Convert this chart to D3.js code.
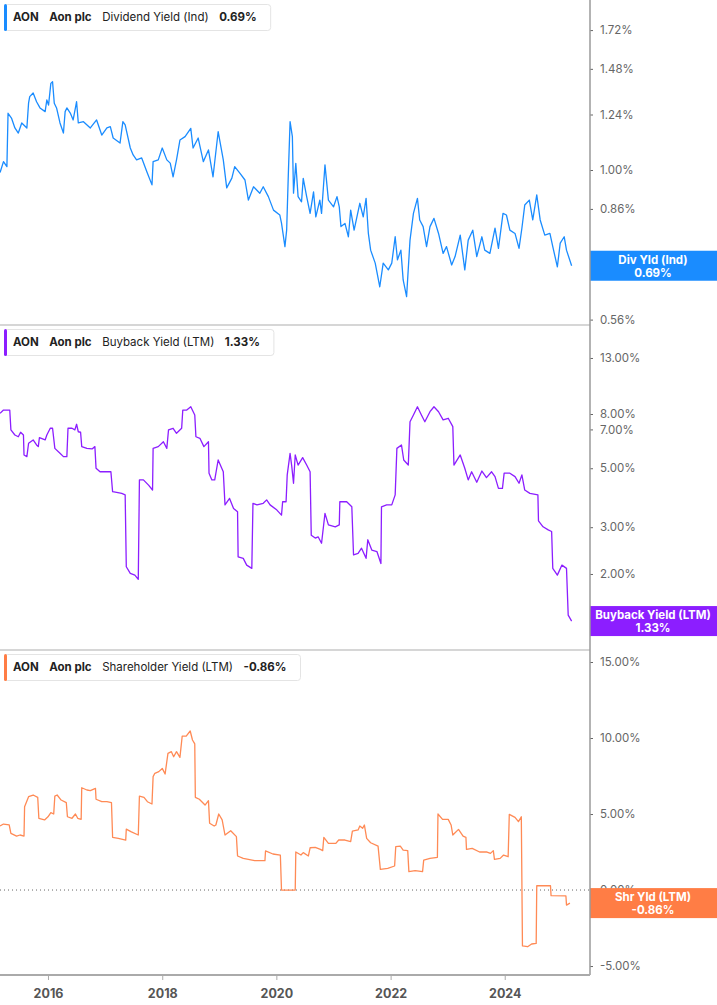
<!DOCTYPE html>
<html>
<head>
<meta charset="utf-8">
<script src="https://cdn.jsdelivr.net/npm/d3@7"></script>
<style>
  body { margin: 0; background: #fff; }
  svg { display: block; font-family: Inter, "Noto Sans", sans-serif; }
</style>
</head>
<body>
<svg id="chart" width="717" height="1005"></svg>
<script>
// [decimal year, value %]
const divYield = [
  [2015.16, 0.99], [2015.22, 1.033], [2015.28, 1.013], [2015.30, 1.246], [2015.36, 1.223],
  [2015.42, 1.177], [2015.48, 1.154], [2015.54, 1.200], [2015.63, 1.177], [2015.66, 1.297],
  [2015.68, 1.329], [2015.74, 1.348], [2015.80, 1.303], [2015.86, 1.272], [2015.95, 1.254],
  [2015.98, 1.312], [2016.01, 1.286], [2016.05, 1.399], [2016.08, 1.408], [2016.11, 1.295],
  [2016.15, 1.272], [2016.21, 1.200], [2016.27, 1.154], [2016.30, 1.254], [2016.33, 1.272],
  [2016.39, 1.247], [2016.44, 1.214], [2016.50, 1.303], [2016.53, 1.200], [2016.62, 1.206],
  [2016.74, 1.177], [2016.85, 1.214], [2016.94, 1.145], [2017.03, 1.177], [2017.09, 1.183],
  [2017.14, 1.132], [2017.26, 1.110], [2017.31, 1.206], [2017.35, 1.191], [2017.44, 1.089],
  [2017.49, 1.060], [2017.55, 1.040], [2017.64, 1.048], [2017.73, 0.993], [2017.82, 0.944],
  [2017.84, 1.033], [2017.93, 1.040], [2018.00, 1.089], [2018.08, 1.040], [2018.14, 1.027],
  [2018.19, 0.974], [2018.25, 1.040], [2018.31, 1.123], [2018.40, 1.138], [2018.50, 1.175],
  [2018.54, 1.089], [2018.63, 1.132], [2018.72, 1.033], [2018.81, 1.081], [2018.89, 0.974],
  [2018.98, 1.160], [2019.07, 1.040], [2019.13, 0.933], [2019.22, 0.969], [2019.27, 1.013],
  [2019.36, 0.988], [2019.45, 0.962], [2019.51, 0.890], [2019.60, 0.937], [2019.71, 0.914],
  [2019.77, 0.937], [2019.86, 0.902], [2019.95, 0.856], [2020.06, 0.840], [2020.09, 0.814],
  [2020.15, 0.743], [2020.18, 0.792], [2020.21, 0.988], [2020.24, 1.206], [2020.28, 1.138],
  [2020.30, 0.914], [2020.34, 1.026], [2020.38, 0.902], [2020.44, 0.884], [2020.47, 0.968],
  [2020.53, 0.902], [2020.59, 0.845], [2020.65, 0.919], [2020.69, 0.834], [2020.76, 0.890],
  [2020.79, 0.845], [2020.85, 1.020], [2020.91, 0.890], [2021.00, 0.867], [2021.06, 0.902],
  [2021.10, 0.867], [2021.13, 0.803], [2021.20, 0.813], [2021.26, 0.772], [2021.30, 0.856],
  [2021.36, 0.792], [2021.46, 0.879], [2021.52, 0.834], [2021.57, 0.896], [2021.61, 0.782],
  [2021.65, 0.733], [2021.73, 0.697], [2021.81, 0.636], [2021.87, 0.697], [2021.96, 0.679],
  [2022.02, 0.697], [2022.08, 0.772], [2022.12, 0.706], [2022.18, 0.733], [2022.22, 0.653],
  [2022.28, 0.612], [2022.34, 0.762], [2022.40, 0.845], [2022.47, 0.896], [2022.51, 0.824],
  [2022.57, 0.803], [2022.63, 0.743], [2022.69, 0.803], [2022.76, 0.829], [2022.84, 0.782],
  [2022.92, 0.724], [2022.98, 0.743], [2023.07, 0.692], [2023.13, 0.715], [2023.22, 0.777],
  [2023.30, 0.679], [2023.36, 0.762], [2023.44, 0.792], [2023.51, 0.715], [2023.60, 0.772],
  [2023.65, 0.733], [2023.74, 0.724], [2023.83, 0.798], [2023.89, 0.738], [2023.97, 0.845],
  [2024.03, 0.840], [2024.09, 0.792], [2024.18, 0.782], [2024.25, 0.738], [2024.30, 0.798],
  [2024.35, 0.873], [2024.43, 0.890], [2024.49, 0.824], [2024.56, 0.908], [2024.62, 0.824],
  [2024.70, 0.777], [2024.79, 0.782], [2024.84, 0.743], [2024.92, 0.687], [2024.97, 0.753],
  [2025.04, 0.772], [2025.08, 0.733], [2025.17, 0.69]
];

const buybackYield = [
  [2015.16, 8.05], [2015.22, 8.28], [2015.33, 8.28], [2015.35, 6.97], [2015.42, 6.67],
  [2015.48, 6.57], [2015.52, 6.83], [2015.57, 6.67], [2015.58, 5.61], [2015.63, 5.53],
  [2015.66, 6.21], [2015.74, 6.39], [2015.80, 6.12], [2015.83, 6.03], [2015.85, 6.52],
  [2015.95, 6.39], [2015.98, 6.67], [2016.04, 7.07], [2016.08, 7.07], [2016.12, 5.94],
  [2016.21, 5.69], [2016.27, 5.53], [2016.33, 5.53], [2016.35, 7.07], [2016.42, 7.07],
  [2016.47, 6.97], [2016.50, 7.32], [2016.53, 6.86], [2016.57, 6.83], [2016.59, 6.03],
  [2016.68, 5.94], [2016.77, 5.91], [2016.82, 6.03], [2016.84, 5.00], [2016.91, 4.85],
  [2017.10, 4.85], [2017.13, 4.08], [2017.20, 4.06], [2017.29, 4.02], [2017.35, 3.97],
  [2017.37, 2.13], [2017.44, 2.01], [2017.52, 1.98], [2017.58, 1.91], [2017.60, 4.52],
  [2017.67, 4.52], [2017.76, 4.32], [2017.83, 4.14], [2017.84, 5.94], [2017.93, 6.03],
  [2018.02, 6.29], [2018.08, 5.94], [2018.11, 6.97], [2018.19, 7.07], [2018.25, 6.77],
  [2018.34, 7.07], [2018.36, 8.28], [2018.43, 8.28], [2018.50, 8.52], [2018.57, 7.93],
  [2018.59, 6.57], [2018.66, 6.48], [2018.73, 6.03], [2018.81, 6.29], [2018.82, 4.79],
  [2018.87, 4.52], [2018.92, 4.52], [2018.98, 5.37], [2019.07, 4.85], [2019.10, 3.64],
  [2019.18, 3.85], [2019.25, 3.53], [2019.32, 3.43], [2019.33, 2.32], [2019.42, 2.29],
  [2019.48, 2.16], [2019.57, 2.10], [2019.59, 3.69], [2019.66, 3.64], [2019.77, 3.69],
  [2019.83, 3.80], [2019.89, 3.64], [2020.01, 3.48], [2020.09, 3.33], [2020.11, 3.74],
  [2020.17, 3.74], [2020.19, 4.72], [2020.24, 5.69], [2020.27, 5.07], [2020.30, 4.39],
  [2020.33, 5.61], [2020.38, 5.14], [2020.46, 5.48], [2020.53, 5.14], [2020.59, 4.85],
  [2020.61, 2.80], [2020.68, 2.73], [2020.73, 2.76], [2020.79, 2.61], [2020.85, 3.38],
  [2020.91, 3.06], [2021.03, 3.01], [2021.10, 3.06], [2021.11, 3.74], [2021.23, 3.74],
  [2021.32, 3.58], [2021.35, 2.36], [2021.43, 2.39], [2021.49, 2.50], [2021.57, 2.29],
  [2021.60, 2.69], [2021.67, 2.46], [2021.76, 2.43], [2021.83, 2.19], [2021.84, 3.58],
  [2021.93, 3.64], [2022.02, 3.64], [2022.08, 3.97], [2022.11, 5.94], [2022.19, 6.12],
  [2022.23, 5.37], [2022.31, 5.14], [2022.34, 7.48], [2022.40, 7.93], [2022.47, 8.52],
  [2022.54, 7.93], [2022.60, 7.48], [2022.69, 8.16], [2022.76, 8.52], [2022.84, 8.16],
  [2022.92, 7.60], [2023.01, 7.71], [2023.09, 7.17], [2023.11, 5.14], [2023.22, 5.61],
  [2023.30, 5.00], [2023.36, 4.52], [2023.42, 4.85], [2023.51, 4.43], [2023.60, 4.88],
  [2023.68, 4.61], [2023.77, 4.85], [2023.83, 4.65], [2023.89, 4.20], [2023.96, 4.20],
  [2023.99, 4.79], [2024.09, 4.79], [2024.18, 4.65], [2024.25, 4.39], [2024.30, 4.72],
  [2024.35, 4.14], [2024.44, 4.02], [2024.58, 3.97], [2024.59, 3.17], [2024.67, 3.01],
  [2024.76, 2.93], [2024.82, 2.89], [2024.84, 2.10], [2024.92, 1.98], [2025.00, 2.16],
  [2025.08, 2.10], [2025.11, 1.40], [2025.17, 1.33]
];

const shareholderYield = [
  [2015.16, 4.21], [2015.22, 4.34], [2015.32, 4.28], [2015.35, 3.73], [2015.45, 3.55],
  [2015.51, 3.62], [2015.58, 3.55], [2015.59, 5.48], [2015.66, 6.14], [2015.74, 6.25],
  [2015.82, 6.10], [2015.84, 4.72], [2015.94, 4.61], [2016.00, 4.82], [2016.05, 5.09],
  [2016.10, 5.00], [2016.12, 6.18], [2016.16, 6.25], [2016.23, 5.92], [2016.32, 5.75],
  [2016.34, 4.82], [2016.42, 4.72], [2016.48, 5.00], [2016.52, 4.72], [2016.58, 4.65],
  [2016.59, 6.73], [2016.68, 6.58], [2016.74, 6.54], [2016.83, 6.69], [2016.84, 5.97],
  [2016.94, 5.81], [2017.03, 5.81], [2017.11, 5.75], [2017.13, 3.47], [2017.23, 3.40],
  [2017.36, 3.29], [2017.37, 4.01], [2017.45, 3.84], [2017.58, 3.62], [2017.60, 6.18],
  [2017.68, 6.10], [2017.74, 5.81], [2017.82, 5.66], [2017.84, 7.46], [2017.87, 7.68],
  [2017.94, 7.79], [2018.00, 8.00], [2018.05, 7.63], [2018.10, 8.99], [2018.16, 9.10],
  [2018.20, 8.77], [2018.25, 9.10], [2018.31, 8.73], [2018.35, 10.13], [2018.42, 10.13],
  [2018.49, 10.46], [2018.53, 9.87], [2018.57, 9.61], [2018.58, 6.10], [2018.65, 5.97],
  [2018.75, 5.59], [2018.81, 5.88], [2018.83, 4.39], [2018.91, 4.21], [2018.94, 4.28],
  [2018.99, 5.00], [2019.05, 4.61], [2019.10, 3.62], [2019.20, 3.90], [2019.30, 3.51],
  [2019.32, 2.24], [2019.42, 2.08], [2019.62, 1.93], [2019.80, 1.93], [2019.81, 2.57],
  [2019.94, 2.37], [2020.07, 2.30], [2020.09, 0.00], [2020.33, 0.00], [2020.34, 2.50],
  [2020.43, 2.30], [2020.47, 2.46], [2020.56, 2.24], [2020.59, 2.78], [2020.68, 2.81],
  [2020.77, 2.67], [2020.81, 2.59], [2020.83, 3.47], [2020.91, 3.07], [2021.04, 3.07],
  [2021.09, 3.29], [2021.20, 3.29], [2021.30, 3.18], [2021.33, 3.88], [2021.43, 3.95],
  [2021.46, 4.21], [2021.51, 4.06], [2021.54, 4.28], [2021.58, 3.40], [2021.65, 3.11],
  [2021.78, 2.89], [2021.82, 1.36], [2021.95, 1.43], [2022.07, 1.58], [2022.09, 2.85],
  [2022.17, 2.89], [2022.22, 2.63], [2022.30, 2.59], [2022.32, 1.21], [2022.43, 1.27],
  [2022.56, 1.21], [2022.58, 1.97], [2022.69, 2.08], [2022.82, 2.15], [2022.83, 5.00],
  [2022.91, 4.65], [2023.01, 4.65], [2023.06, 4.28], [2023.09, 3.62], [2023.19, 3.99],
  [2023.27, 3.55], [2023.32, 3.47], [2023.33, 2.67], [2023.43, 2.74], [2023.56, 2.50],
  [2023.69, 2.50], [2023.75, 2.41], [2023.80, 2.59], [2023.82, 2.02], [2023.92, 2.08],
  [2023.98, 2.30], [2024.06, 2.19], [2024.08, 4.98], [2024.18, 4.78], [2024.24, 4.50],
  [2024.29, 4.82], [2024.31, -3.68], [2024.40, -3.73], [2024.47, -3.55], [2024.55, -3.51],
  [2024.56, 0.28], [2024.80, 0.28], [2024.81, -0.37], [2025.07, -0.39], [2025.08, -0.99],
  [2025.14, -0.86]
];

const divTicks = [0.56, 0.71, 0.86, 1.00, 1.24, 1.48, 1.72];
const buybackTicks = [2, 3, 5, 7, 8, 13];
const shareholderTicks = [-5, 0, 5, 10, 15];
const yearTicks = [2016, 2018, 2020, 2022, 2024];

const panels = [
  { data: divYield, ticks: divTicks, log: true, domain: [0.5484, 1.9327],
    top: 0, bottom: 325, color: "#1a8cff", lineColor: "#1a8cff",
    name: "Dividend Yield (Ind)", short: "Div Yld (Ind)", last: "0.69%" },
  { data: buybackYield, ticks: buybackTicks, log: true, domain: [1.035, 17.3],
    top: 325, bottom: 650, color: "#8c1eff", lineColor: "#8c1eff",
    name: "Buyback Yield (LTM)", short: "Buyback Yield (LTM)", last: "1.33%" },
  { data: shareholderYield, ticks: shareholderTicks, log: false, domain: [-5.59, 15.79],
    top: 650, bottom: 975, color: "#ff7d45", lineColor: "#ff8a55",
    name: "Shareholder Yield (LTM)", short: "Shr Yld (LTM)", last: "-0.86%" }
];

const width = 717, plotRight = 590, axisY = 975;
const svg = d3.select("#chart");

function yearToDate(y) {
  const yr = Math.floor(y);
  const start = new Date(yr, 0, 1), end = new Date(yr + 1, 0, 1);
  return new Date(start.getTime() + (y - yr) * (end - start));
}

const x = d3.scaleTime()
  .domain([yearToDate(2015.159), yearToDate(2025.492)])
  .range([0, plotRight]);

panels.forEach(p => {
  const y = (p.log ? d3.scaleLog() : d3.scaleLinear())
    .domain(p.domain)
    .range([p.bottom, p.top]);

  const g = svg.append("g");

  // zero reference line
  if (!p.log) {
    g.append("line")
      .attr("x1", 0).attr("x2", plotRight)
      .attr("y1", y(0)).attr("y2", y(0))
      .attr("stroke", "#666").attr("stroke-width", 1)
      .attr("stroke-dasharray", "1,3");
  }

  const line = d3.line()
    .x(d => x(yearToDate(d[0])))
    .y(d => y(d[1]));

  g.append("path")
    .datum(p.data)
    .attr("fill", "none")
    .attr("stroke", p.lineColor)
    .attr("stroke-width", 1.3)
    .attr("stroke-linejoin", "round")
    .attr("d", line);

  // right axis
  const axis = d3.axisRight(y)
    .tickValues(p.ticks)
    .tickSize(3)
    .tickPadding(7)
    .tickFormat(d => d.toFixed(2) + "%");
  const ag = g.append("g")
    .attr("transform", `translate(${plotRight},0)`)
    .call(axis);
  ag.select(".domain").remove();
  ag.selectAll(".tick line").attr("stroke", "#666");
  ag.selectAll(".tick text")
    .attr("fill", "#666")
    .style("font-size", "11.5px")
    .style("font-family", "Inter, sans-serif");

  // separator line under the panel
  if (p.bottom < axisY) {
    g.append("line")
      .attr("x1", 0).attr("x2", plotRight)
      .attr("y1", p.bottom).attr("y2", p.bottom)
      .attr("stroke", "#c8c8c8").attr("stroke-width", 1.5);
  }

  // last value badge (covers the tick label under it, as in the source)
  const lastVal = p.data[p.data.length - 1][1];
  const cy = y(lastVal);
  g.append("rect")
    .attr("x", plotRight).attr("y", cy - 15)
    .attr("width", width - plotRight).attr("height", 30)
    .attr("fill", p.color);
  g.append("text")
    .attr("x", 653).attr("y", cy - 2)
    .attr("text-anchor", "middle")
    .attr("fill", "#fff").attr("font-weight", 700)
    .style("font-size", "11.5px")
    .text(p.short);
  g.append("text")
    .attr("x", 653).attr("y", cy + 11)
    .attr("text-anchor", "middle")
    .attr("fill", "#fff").attr("font-weight", 700)
    .style("font-size", "11.5px")
    .text(p.last);

  // header legend
  const hg = svg.append("g");
  const box = hg.append("rect")
    .attr("x", 4.5).attr("y", p.top + 4.5)
    .attr("height", 26).attr("rx", 3)
    .attr("fill", "#fff").attr("stroke", "#e4e4e4");
  hg.append("rect")
    .attr("x", 4).attr("y", p.top + 4)
    .attr("width", 3).attr("height", 27).attr("rx", 1.5)
    .attr("fill", p.color);
  const parts = [
    { t: "AON", w: 700 }, { t: "Aon plc", w: 700 },
    { t: p.name, w: 400 }, { t: p.last, w: 700 }
  ];
  let cx = 13;
  parts.forEach(pt => {
    const t = hg.append("text")
      .attr("x", cx).attr("y", p.top + 21)
      .attr("fill", "#222").attr("font-weight", pt.w)
      .style("font-size", "11.5px")
      .text(pt.t);
    cx += t.node().getComputedTextLength() + 10.5;
  });
  box.attr("width", cx - 10.5 + 14 - 4.5);
});

// right vertical axis line
svg.append("line")
  .attr("x1", plotRight).attr("x2", plotRight)
  .attr("y1", 0).attr("y2", axisY)
  .attr("stroke", "#9a9a9a").attr("stroke-width", 1.5);

// bottom time axis
const xAxis = d3.axisBottom(x)
  .tickValues(yearTicks.map(v => new Date(v, 0, 1)))
  .tickSize(5)
  .tickPadding(9)
  .tickFormat(d3.timeFormat("%Y"));
const xg = svg.append("g")
  .attr("transform", `translate(0,${axisY})`)
  .call(xAxis);
xg.select(".domain")
  .attr("stroke", "#aaa").attr("stroke-width", 2)
  .attr("d", `M0,0H${plotRight}`);
xg.selectAll(".tick line").attr("stroke", "#aaa");
xg.selectAll(".tick text")
  .attr("fill", "#555")
  .attr("font-weight", 700)
  .style("font-size", "12.5px")
  .style("font-family", "Inter, sans-serif");
</script>
</body>
</html>
